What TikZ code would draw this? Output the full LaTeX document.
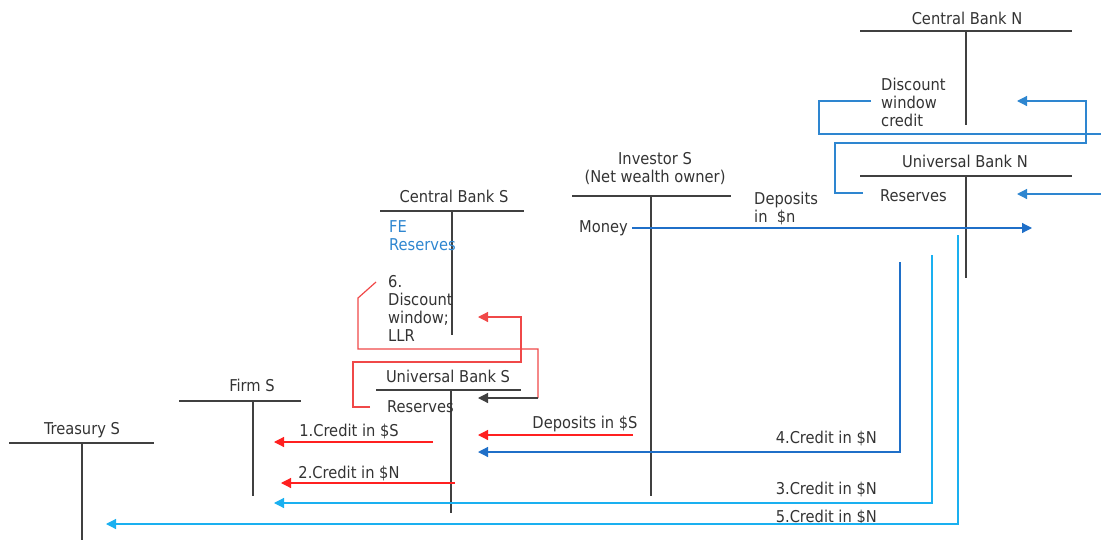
\documentclass[tikz,border=0pt]{standalone}
\usepackage{fontspec}
\setmainfont{DejaVu Sans Condensed}
\usetikzlibrary{arrows.meta}
\definecolor{tline}{HTML}{404040}
\definecolor{txt}{HTML}{333333}
\definecolor{dblue}{HTML}{1F6FC8}
\definecolor{lblue}{HTML}{1AB0F0}
\definecolor{fered}{HTML}{FF2020}
\definecolor{lred}{HTML}{F04848}
\definecolor{feblue}{HTML}{2E86D0}
\tikzset{
  lbl/.style={inner sep=0pt, text=txt, font=\fontsize{16.3}{18}\selectfont},
  lblL/.style={lbl, anchor=west, align=left},
  tacc/.style={draw=tline, line width=2.6pt},
  con/.style={line width=1.2pt},
  tip/.style={-{Triangle[length=10pt,width=10pt]}},
}
\begin{document}
\begin{tikzpicture}[x=1pt,y=-1pt]
\useasboundingbox (0,0) rectangle (1101,541);

% ---------- T accounts ----------
\node[lbl] (cbn) at (967,18) {Central Bank N};
\draw[tacc] (860,31) -- (1072,31) (966,31) -- (966,125);
\node[lbl] (ubn) at (965,161) {Universal Bank N};
\draw[tacc] (860,176) -- (1072,176) (966,176) -- (966,278);
\node[lbl, align=center] (inv) at (655,169) {Investor S\\(Net wealth owner)};
\draw[tacc] (572,196) -- (731,196) (651,196) -- (651,496);
\node[lbl] (cbs) at (454,196) {Central Bank S};
\draw[tacc] (380,211) -- (524,211) (452,211) -- (452,335);
\node[lbl] (ubs) at (448,376) {Universal Bank S};
\draw[tacc] (376,390) -- (521,390) (451,390) -- (451,513);
\node[lbl] (firm) at (252,385) {Firm S};
\draw[tacc] (179,401) -- (301,401) (253,401) -- (253,496);
\node[lbl] (tre) at (82,430) {Treasury S};
\draw[tacc] (9,443) -- (154,443) (82,443) -- (82,540);

% ---------- account entries ----------
\node[lblL] (dwc) at (881,102) {Discount\\window\\credit};
\node[lblL] (resN) at (880,196) {Reserves};
\node[lblL] (money) at (579,228) {Money};
\node[lblL] (depn) at (754,209) {Deposits\\in~~\$n};
\node[lblL, text=feblue] (fer) at (389,236) {FE\\Reserves};
\node[lblL] (dw6) at (388,308) {6.\\Discount\\window;\\LLR};
\node[lblL] (resS) at (387,407) {Reserves};
\node[lbl] (c1) at (349,432) {1.Credit in \$S};
\node[lbl] (c2) at (349,473) {2.Credit in \$N};
\node[lbl] (depS) at (585,424) {Deposits in \$S};
\node[lbl, anchor=east] (c4) at (877,439) {4.Credit in \$N};
\node[lbl, anchor=east] (c3) at (877,489) {3.Credit in \$N};
\node[lbl, anchor=east] (c5) at (877,517) {5.Credit in \$N};

% ---------- connector end points ----------
\coordinate (edgeA) at (1101,134);
\coordinate (edgeB) at (1101,194);
\coordinate (dwIn) at (1017,101);
\coordinate (rNIn) at (1017,194);
\coordinate (mEnd) at (1032,228);
\coordinate (t4) at (900,262);
\coordinate (t3) at (932,255);
\coordinate (t5) at (958,235);
\coordinate (ubsIn1) at (478,317);
\coordinate (ubsIn2) at (478,398);
\coordinate (ubsIn3) at (478,435);
\coordinate (ubsIn4) at (478,452);
\coordinate (f1) at (274,442);
\coordinate (f2) at (281,483);
\coordinate (f3) at (274,503);
\coordinate (tr5) at (106,524);
\coordinate (dwcOut) at (871,101);
\coordinate (resNOut) at (863,193);
\coordinate (moneyOut) at (632,228);
\coordinate (dw6Out) at (376,282);
\coordinate (resSOut) at (370,407);

% ---------- blue connectors (country N) ----------
\draw[con, draw=feblue] (dwcOut) -- (819,101) -- (819,134) -- (edgeA);
\draw[con, draw=feblue, tip] (resNOut) -- (835,193) -- (835,143) -- (1086,143) -- (1086,101) -- (dwIn);
\draw[con, draw=feblue, tip] (edgeB) -- (rNIn);
\draw[con, draw=dblue, tip] (moneyOut) -- (mEnd);
\draw[con, draw=dblue, tip] (t4) -- (900,452) -- (ubsIn4);
\draw[con, draw=lblue, tip] (t3) -- (932,503) -- (f3);
\draw[con, draw=lblue, tip] (t5) -- (958,524) -- (tr5);

% ---------- red connectors (country S) ----------
\draw[con, draw=lred] (dw6Out) -- (358,298) -- (358,349) -- (538,349) -- (538,398);
\draw[con, draw=tline, tip] (538,398) -- (ubsIn2);
\draw[con, draw=lred, tip] (resSOut) -- (353,407) -- (353,362) -- (521,362) -- (521,317) -- (ubsIn1);
\draw[con, draw=fered, tip] (433,442) -- (f1);
\draw[con, draw=fered, tip] (455,483) -- (f2);
\draw[con, draw=fered, tip] (633,435) -- (ubsIn3);
\end{tikzpicture}
\end{document}
